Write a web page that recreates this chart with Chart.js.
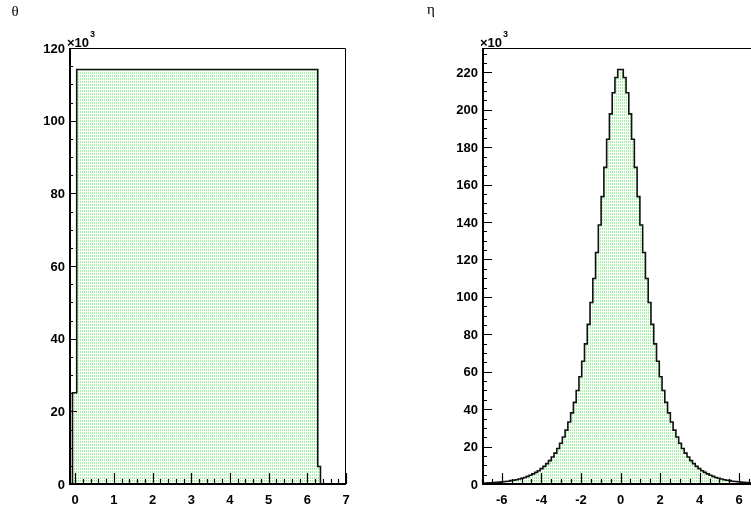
<!DOCTYPE html>
<html>
<head>
<meta charset="utf-8">
<script src="https://cdn.jsdelivr.net/npm/chart.js"></script>
<style>
html, body { margin: 0; padding: 0; background: #fff; overflow: hidden; width: 751px; height: 512px; position: relative; }
canvas { position: absolute; top: 0; }
</style>
</head>
<body>
<canvas id="thetaChart" width="374" height="512" style="left:0"></canvas>
<canvas id="etaChart" width="400" height="512" style="left:374px"></canvas>
<script>
// theta histogram: bin edges and contents (x10^3)
const thetaEdges = [-0.07, 0.04, 0.5, 1.0, 1.5, 2.0, 2.5, 3.0, 3.5, 4.0, 4.5, 5.0, 5.5, 6.0, 6.27, 6.34];
const thetaCounts = [25.1, 114.1, 114.1, 114.1, 114.1, 114.1, 114.1, 114.1, 114.1, 114.1, 114.1, 114.1, 114.1, 114.1, 4.8];

// eta histogram: 100 bins from -7 to 7 (x10^3)
const etaLow = -7;
const etaBinWidth = 0.14;
const etaCounts = [
    0.4, 0.5, 0.6, 0.7, 0.8, 0.9, 1.0, 1.2, 1.3, 1.5,
    1.8, 2.0, 2.3, 2.7, 3.1, 3.5, 4.1, 4.7, 5.4, 6.2,
    7.1, 8.2, 9.4, 10.9, 12.5, 14.4, 16.5, 19.0, 21.8, 25.1,
    28.8, 33.1, 38.0, 43.6, 50.0, 57.3, 65.6, 74.9, 85.3, 97.0,
    109.8, 123.7, 138.4, 153.6, 169.2, 184.2, 197.8, 209.1, 217.2, 221.5,
    221.5, 217.2, 209.1, 197.8, 184.2, 169.2, 153.6, 138.4, 123.7, 109.8,
    97.0, 85.3, 74.9, 65.6, 57.3, 50.0, 43.6, 38.0, 33.1, 28.8,
    25.1, 21.8, 19.0, 16.5, 14.4, 12.5, 10.9, 9.4, 8.2, 7.1,
    6.2, 5.4, 4.7, 4.1, 3.5, 3.1, 2.7, 2.3, 2.0, 1.8,
    1.5, 1.3, 1.2, 1.0, 0.9, 0.8, 0.7, 0.6, 0.5, 0.4
];
const etaEdges = [];
for (let i = 0; i <= etaCounts.length; i++) etaEdges.push(+(etaLow + i * etaBinWidth).toFixed(2));

// histogram outline as stepped points
function histPoints(edges, counts) {
    const pts = [{ x: edges[0], y: 0 }];
    counts.forEach((c, i) => pts.push({ x: edges[i], y: c }));
    pts.push({ x: edges[edges.length - 1], y: 0 });
    return pts;
}

// green dotted fill, like ROOT fill style
const patterns = {};
function dotFill(context) {
    const chart = context.chart;
    if (!patterns[chart.id]) {
        const tile = document.createElement('canvas');
        tile.width = 2; tile.height = 3;
        const g = tile.getContext('2d');
        g.fillStyle = '#fff';
        g.fillRect(0, 0, 2, 3);
        g.fillStyle = 'rgb(160,243,160)';
        g.fillRect(0, 0, 1, 2);
        patterns[chart.id] = chart.ctx.createPattern(tile, 'repeat');
    }
    return patterns[chart.id];
}

function stepsOf(min, max, step) {
    const out = [];
    for (let k = Math.ceil(min / step - 1e-6); k * step <= max + 1e-6; k++) out.push(+(k * step).toFixed(3));
    return out;
}

// frame, inward ticks and labels drawn ROOT style
const rootFrame = {
    id: 'rootFrame',
    afterDatasetsDraw(chart, args, o) {
        const { ctx, chartArea: a, scales: { x, y } } = chart;
        ctx.save();
        ctx.strokeStyle = '#000';

        // thin frame
        ctx.lineWidth = 1;
        ctx.beginPath();
        ctx.moveTo(a.left, a.top + 0.5);
        ctx.lineTo(a.right - 0.5, a.top + 0.5);
        ctx.lineTo(a.right - 0.5, a.bottom);
        ctx.stroke();

        // minor / major ticks
        ctx.lineWidth = 1.2;
        ctx.beginPath();
        stepsOf(x.min, x.max, o.xMinor).forEach(v => {
            const px = Math.round(x.getPixelForValue(v)) + 0.5;
            const isMajor = Math.abs(v / o.xMajor - Math.round(v / o.xMajor)) < 1e-6;
            ctx.moveTo(px, a.bottom);
            ctx.lineTo(px, a.bottom - (isMajor ? o.xMajLen : o.xMinLen));
        });
        stepsOf(y.min, y.max, o.yMinor).forEach(v => {
            const py = Math.round(y.getPixelForValue(v)) + 0.5;
            const isMajor = Math.abs(v / o.yMajor - Math.round(v / o.yMajor)) < 1e-6;
            ctx.moveTo(a.left, py);
            ctx.lineTo(a.left + (isMajor ? o.yMajLen : o.yMinLen), py);
        });
        ctx.stroke();

        // axis lines
        ctx.lineWidth = 2;
        ctx.beginPath();
        ctx.moveTo(a.left + 1, a.top);
        ctx.lineTo(a.left + 1, a.bottom);
        ctx.lineTo(a.right, a.bottom);
        ctx.stroke();

        // tick labels
        ctx.fillStyle = '#000';
        ctx.font = 'bold 13px "Liberation Sans", Arial, sans-serif';
        ctx.textAlign = 'center';
        ctx.textBaseline = 'middle';
        stepsOf(x.min, x.max, o.xMajor).forEach(v => {
            ctx.fillText(String(Math.round(v)), x.getPixelForValue(v), a.bottom + 16.5);
        });
        ctx.textAlign = 'right';
        stepsOf(y.min, y.max, o.yMajor).forEach(v => {
            ctx.fillText(String(Math.round(v)), a.left - 4, y.getPixelForValue(v) + 1);
        });

        // x10^3 multiplier
        ctx.textAlign = 'left';
        ctx.textBaseline = 'alphabetic';
        ctx.font = 'bold 13px "Liberation Sans", Arial, sans-serif';
        ctx.fillText('×10', a.left - 2, a.top - 1);
        const w = ctx.measureText('×10').width;
        ctx.font = 'bold 9px "Liberation Sans", Arial, sans-serif';
        ctx.fillText('3', a.left - 1 + w, a.top - 11);

        // histogram name
        ctx.font = '15px "Liberation Serif", "DejaVu Serif", serif';
        ctx.textAlign = 'center';
        ctx.textBaseline = 'middle';
        ctx.fillText(o.title, o.titleX, o.titleY);
        ctx.restore();
    }
};

function histChart(id, edges, counts, xMin, xMax, yMax, pad, frameOpts) {
    return new Chart(document.getElementById(id), {
        type: 'line',
        data: {
            datasets: [{
                data: histPoints(edges, counts),
                stepped: 'before',
                borderColor: '#111',
                borderWidth: 1.6,
                backgroundColor: dotFill,
                fill: 'origin',
                pointRadius: 0,
                tension: 0
            }]
        },
        options: {
            responsive: false,
            animation: false,
            devicePixelRatio: 1,
            layout: { padding: pad },
            scales: {
                x: { type: 'linear', min: xMin, max: xMax, display: false },
                y: { type: 'linear', min: 0, max: yMax, display: false }
            },
            plugins: {
                legend: { display: false },
                tooltip: { enabled: false },
                rootFrame: frameOpts
            }
        },
        plugins: [rootFrame]
    });
}

histChart('thetaChart', thetaEdges, thetaCounts, -0.16, 7.0, 120,
    { left: 69, right: 28, top: 48, bottom: 28 },
    { xMajor: 1, xMinor: 0.2, yMajor: 20, yMinor: 5,
      xMajLen: 11, xMinLen: 5, yMajLen: 8, yMinLen: 4,
      title: 'θ', titleX: 15, titleY: 12 });

histChart('etaChart', etaEdges, etaCounts, -7, 7, 233,
    { left: 108, right: 15, top: 48, bottom: 28 },
    { xMajor: 2, xMinor: 0.5, yMajor: 20, yMinor: 5,
      xMajLen: 11, xMinLen: 5, yMajLen: 10, yMinLen: 5,
      title: 'η', titleX: 57, titleY: 10 });
</script>
</body>
</html>
